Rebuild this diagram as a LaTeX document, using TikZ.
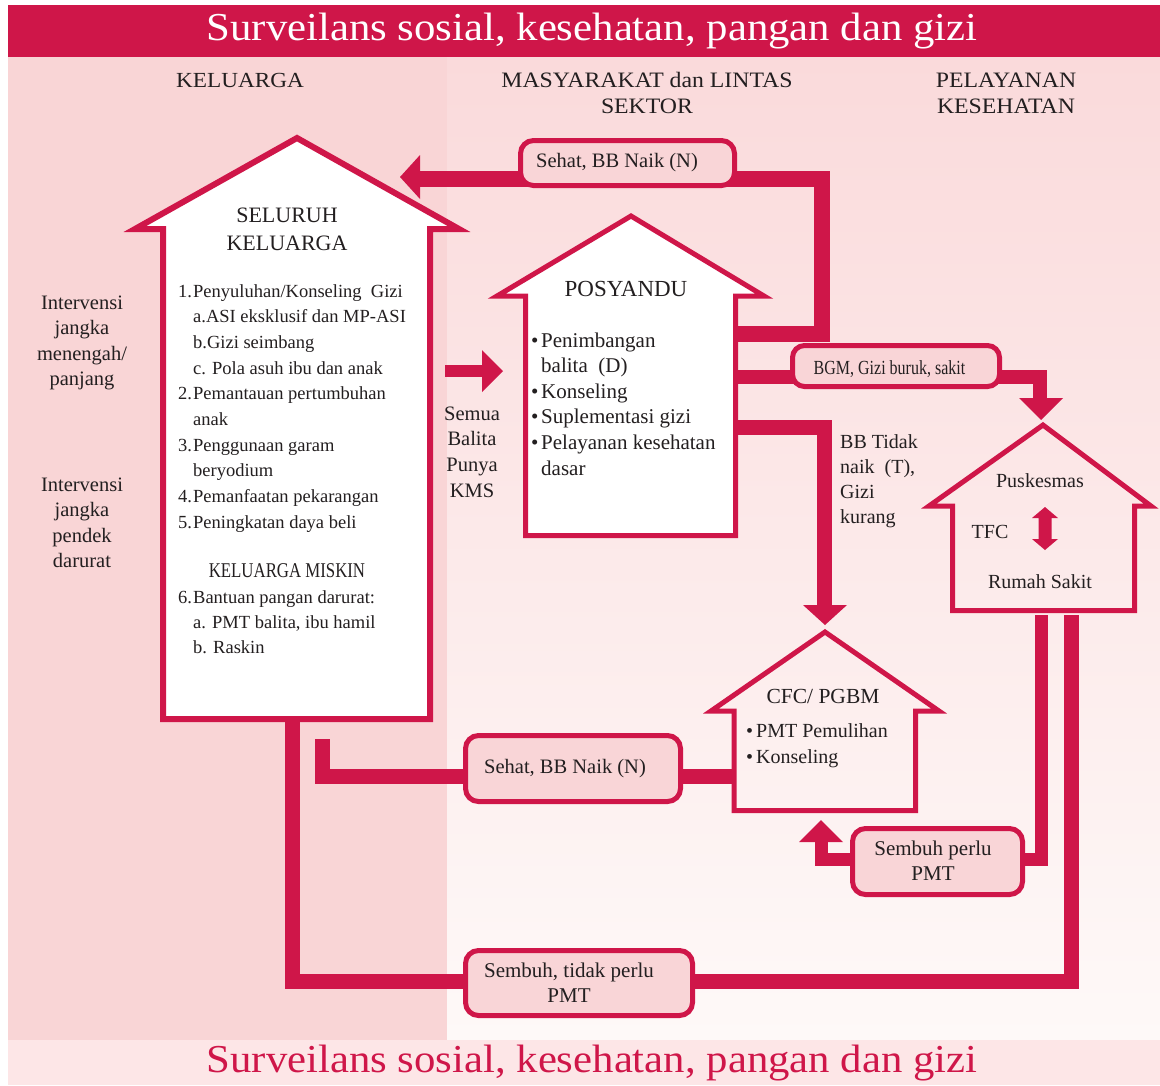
\documentclass[tikz,border=0pt]{standalone}
\usepackage{fontspec}
\setmainfont{Liberation Serif}
\newfontfamily\titlefont[FakeStretch=1.08]{Liberation Serif}
\newfontfamily\condfont[FakeStretch=0.8]{Liberation Serif}
\definecolor{crim}{HTML}{CF1649}
\definecolor{leftpink}{HTML}{F9D5D6}
\definecolor{boxpink}{HTML}{F9D5D7}
\definecolor{botpink}{HTML}{FDE6E7}
\definecolor{ink}{HTML}{231F20}
\newcommand{\fs}[2]{\fontsize{#1}{#2}\selectfont}
\newcommand{\cpar}[4]{\parbox[t]{#1}{\centering\fontsize{#2}{#3}\selectfont #4}}
\newcommand{\lpar}[4]{\parbox[t]{#1}{\raggedright\fontsize{#2}{#3}\selectfont #4}}
\newcommand{\nbox}[1]{\makebox[15pt][l]{#1}}
\newcommand{\subin}{\hspace*{15pt}}
\newcommand{\bul}{\makebox[10pt][l]{•}}
\newcommand{\subb}{\hspace*{10pt}}
\tikzset{
  conn/.style={draw=crim, line width=15pt, line join=miter},
  house/.style={draw=crim, line width=5pt, line join=miter, miter limit=20},
  lblbox/.style={draw=crim, line width=5pt, fill=boxpink, rounded corners=13pt, inner sep=0pt},
  txt/.style={inner sep=0pt, text=ink},
  head/.style={fill=crim},
}
\begin{document}
\begin{tikzpicture}[x=1pt,y=-1pt]
\useasboundingbox (0,0) rectangle (1160,1085);
% background
\fill[white] (0,0) rectangle (1160,1085);
\fill[crim] (8,5) rectangle (1160,57);
\fill[leftpink] (8,57) rectangle (447,1040);
\shade[top color={rgb,255:red,250;green,218;blue,219}, bottom color={rgb,255:red,254;green,249;blue,248}] (447,57) rectangle (1160,1040);
\fill[botpink] (8,1040) rectangle (1160,1085);

% titles and column headers
\node[inner sep=0pt, text=white, anchor=base] (title) at (592,40) {\titlefont\fs{39.6}{47}Surveilans sosial, kesehatan, pangan dan gizi};
\node[inner sep=0pt, text=crim, anchor=base] (titlebot) at (592,1072) {\titlefont\fs{39.6}{47}Surveilans sosial, kesehatan, pangan dan gizi};
\node[txt, anchor=base] (hkel) at (240,87) {\titlefont\fs{21.5}{26}KELUARGA};
\node[txt, anchor=base] (hmas) at (647,87) {\titlefont\cpar{330pt}{22}{26}{MASYARAKAT dan LINTAS\\SEKTOR}};
\node[txt, anchor=base] (hpel) at (1006,87) {\titlefont\cpar{200pt}{22}{26}{PELAYANAN\\KESEHATAN}};

% named points
\coordinate (posR1) at (735.5,334);
\coordinate (c1a) at (821.5,334);
\coordinate (c1b) at (821.5,178.5);
\coordinate (c1end) at (419,178.5);
\coordinate (posR2) at (735.5,377);
\coordinate (c2a) at (1040,377);
\coordinate (c2end) at (1040,399);
\coordinate (posR3) at (735.5,427.5);
\coordinate (c3a) at (824.5,427.5);
\coordinate (c3end) at (824.5,606);
\coordinate (cfcL) at (734,776.5);
\coordinate (c4a) at (322,776.5);
\coordinate (c4end) at (322,739);
\coordinate (pusB1) at (1041,615);
\coordinate (c5a) at (1041,859);
\coordinate (c5b) at (821.5,859);
\coordinate (c5end) at (821.5,841);
\coordinate (pusB2) at (1071,615);
\coordinate (c6a) at (1071,981);
\coordinate (c6b) at (292.5,981);
\coordinate (kelB) at (292.5,719);
\coordinate (semA) at (445,371);
\coordinate (semB) at (483,371);

% connectors
\draw[conn, line width=16pt] (posR1) -- (c1a) -- (c1b) -- (c1end);
\fill[head] (420,155) -- (400,177) -- (420,199) -- cycle;
\draw[conn, line width=14pt] (posR2) -- (c2a) -- (c2end);
\fill[head] (1019,398) -- (1063,398) -- (1041,420) -- cycle;
\draw[conn] (posR3) -- (c3a) -- (c3end);
\fill[head] (803,605) -- (847,605) -- (825,625) -- cycle;
\draw[conn] (cfcL) -- (c4a) -- (c4end);
\draw[conn, line width=13pt] (pusB1) -- (c5a) -- (c5b) -- (c5end);
\fill[head] (799,842) -- (843,842) -- (821,820) -- cycle;
\draw[conn] (pusB2) -- (c6a) -- (c6b) -- (kelB);
\draw[conn, line width=12pt] (semA) -- (semB);
\fill[head] (482,350) -- (503,371) -- (482,392) -- cycle;
% TFC double arrow
\fill[crim] (1045,507) -- (1058,518) -- (1051.5,518) -- (1051.5,539) -- (1058,539) -- (1045,550) -- (1032,539) -- (1038.5,539) -- (1038.5,518) -- (1032,518) -- cycle;

% houses
\draw[house, line width=6pt, fill=white] (163,229) -- (135,229) -- (297,138) -- (459,229) -- (430,229) -- (430,719) -- (163,719) -- cycle;
\draw[house, fill=white] (525.5,296) -- (497,296) -- (631,216) -- (764,296) -- (735.5,296) -- (735.5,535.5) -- (525.5,535.5) -- cycle;
\draw[house] (952.5,506) -- (929,506) -- (1043,425) -- (1151,506) -- (1134.5,506) -- (1134.5,610.5) -- (952.5,610.5) -- cycle;
\draw[house] (734,711) -- (711,711) -- (825,632) -- (939,711) -- (915.5,711) -- (915.5,810.5) -- (734,810.5) -- cycle;

% big house text
\node[txt, anchor=base] (seluruh) at (287,222) {\cpar{200pt}{22}{28}{SELURUH\\KELUARGA}};
\node[txt, anchor=base west] (list1) at (178,297) {\lpar{260pt}{18.5}{25.7}{%
\nbox{1.}Penyuluhan/Konseling\ \ Gizi\\
\subin a.ASI eksklusif dan MP-ASI\\
\subin b.Gizi seimbang\\
\subin c. Pola asuh ibu dan anak\\
\nbox{2.}Pemantauan pertumbuhan\\
\subin anak\\
\nbox{3.}Penggunaan garam\\
\subin beryodium\\
\nbox{4.}Pemanfaatan pekarangan\\
\nbox{5.}Peningkatan daya beli}};
\node[txt, anchor=base] (miskin) at (287,577) {\condfont\fs{21}{25}KELUARGA MISKIN};
\node[txt, anchor=base west] (list2) at (178,603) {\lpar{260pt}{18.5}{25.3}{%
\nbox{6.}Bantuan pangan darurat:\\
\subin a. PMT balita, ibu hamil\\
\subin b. Raskin}};

% left side texts
\node[txt, anchor=base] (iv1) at (82,309) {\cpar{120pt}{20.5}{25.5}{Intervensi\\jangka\\menengah/\\panjang}};
\node[txt, anchor=base] (iv2) at (82,491) {\cpar{120pt}{20.5}{25.5}{Intervensi\\jangka\\pendek\\darurat}};
\node[txt, anchor=base] (semua) at (472,420) {\cpar{80pt}{20.5}{25.7}{Semua\\Balita\\Punya\\KMS}};

% posyandu text
\node[txt, anchor=base] (posyandu) at (626,296) {\fs{23}{28}POSYANDU};
\node[txt, anchor=base west] (poslist) at (531,347) {\lpar{220pt}{21}{25.6}{%
\bul Penimbangan\\
\subb balita\ \ (D)\\
\bul Konseling\\
\bul Suplementasi gizi\\
\bul Pelayanan kesehatan\\
\subb dasar}};

% right texts
\node[txt, anchor=base west] (bbt) at (840,448) {\lpar{100pt}{20}{25}{BB Tidak\\naik\ \ (T),\\Gizi\\kurang}};
\node[txt, anchor=base] (pusk) at (1040,487) {\fs{20}{24}Puskesmas};
\node[txt, anchor=base] (tfc) at (990,538) {\fs{20}{24}TFC};
\node[txt, anchor=base] (rs) at (1040,588) {\fs{20}{24}Rumah Sakit};

% CFC text
\node[txt, anchor=base] (cfc) at (823,703) {\fs{21.5}{26}CFC/\ PGBM};
\node[txt, anchor=base west] (cfclist) at (746,737) {\lpar{170pt}{20}{26}{%
\bul PMT Pemulihan\\
\bul Konseling}};

% label boxes
\node[lblbox, minimum width=214pt, minimum height=45pt] (b1) at (627.5,163) {};
\node[txt, anchor=base] (t1) at (617,167) {\fs{20.5}{24}Sehat, BB Naik (N)};
\node[lblbox, minimum width=207pt, minimum height=41pt, rounded corners=12pt] (b2) at (896,366) {};
\node[txt, anchor=base] (t2) at (889.5,374) {\condfont\fs{20}{24}BGM, Gizi buruk, sakit};
\node[lblbox, minimum width=215pt, minimum height=66pt] (b3) at (573,768.5) {};
\node[txt, anchor=base] (t3) at (565,773) {\fs{20.5}{24}Sehat, BB Naik (N)};
\node[lblbox, minimum width=170pt, minimum height=66pt] (b4) at (937.5,861.5) {};
\node[txt, anchor=base] (t4) at (933,855) {\cpar{170pt}{21}{25}{Sembuh perlu\\PMT}};
\node[lblbox, minimum width=227pt, minimum height=65pt] (b5) at (579,983) {};
\node[txt, anchor=base] (t5) at (569,977) {\cpar{220pt}{21}{25}{Sembuh, tidak perlu\\PMT}};
\end{tikzpicture}
\end{document}
